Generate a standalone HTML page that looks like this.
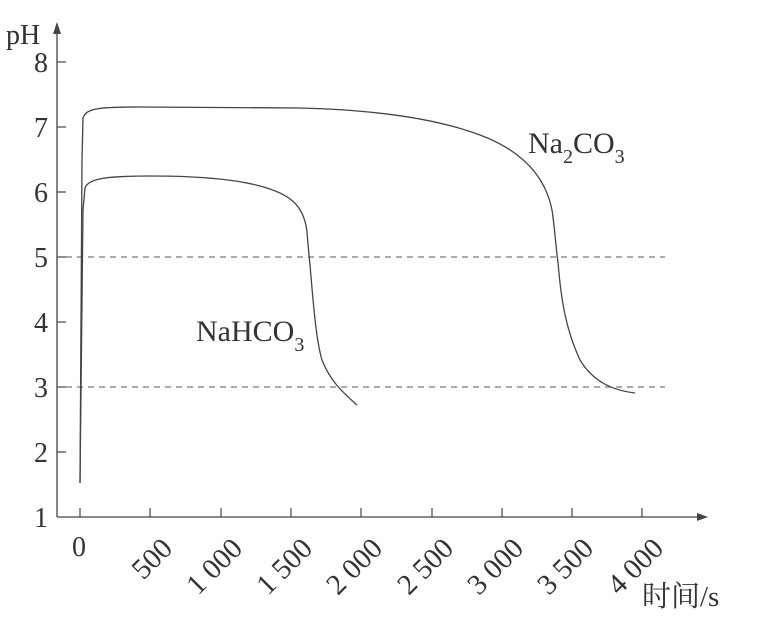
<!DOCTYPE html>
<html><head><meta charset="utf-8"><style>
html,body{margin:0;padding:0;background:#fff;}
svg{display:block;}
text{font-family:"Liberation Serif","Noto Serif CJK SC",serif;fill:#333;}
</style></head><body>
<svg width="766" height="619" viewBox="0 0 766 619" xmlns="http://www.w3.org/2000/svg">
<g stroke="#444" stroke-width="1.3" fill="none">
<line x1="57" y1="517" x2="57" y2="30"/>
<line x1="57" y1="517" x2="700" y2="517"/>
</g>
<polygon points="57,22 53,34 61,34" fill="#444"/>
<polygon points="708,517 697,513 697,521" fill="#444"/>
<g stroke="#444" stroke-width="1.2">
<line x1="57" y1="62" x2="66" y2="62"/><line x1="57" y1="127" x2="66" y2="127"/>
<line x1="57" y1="192" x2="66" y2="192"/><line x1="57" y1="257" x2="66" y2="257"/>
<line x1="57" y1="322" x2="66" y2="322"/><line x1="57" y1="387" x2="66" y2="387"/>
<line x1="57" y1="452" x2="66" y2="452"/>
<line x1="80" y1="517" x2="80" y2="508"/><line x1="150" y1="517" x2="150" y2="508"/>
<line x1="221" y1="517" x2="221" y2="508"/><line x1="291" y1="517" x2="291" y2="508"/>
<line x1="361" y1="517" x2="361" y2="508"/><line x1="432" y1="517" x2="432" y2="508"/>
<line x1="502" y1="517" x2="502" y2="508"/><line x1="572" y1="517" x2="572" y2="508"/>
<line x1="642" y1="517" x2="642" y2="508"/>
</g>
<g stroke="#555" stroke-width="1.1" stroke-dasharray="6,5">
<line x1="66" y1="257" x2="665" y2="257"/>
<line x1="66" y1="387" x2="665" y2="387"/>
</g>
<g font-size="28">
<text x="6" y="44">pH</text>
<text x="34" y="72">8</text><text x="34" y="137">7</text><text x="34" y="202">6</text>
<text x="34" y="267">5</text><text x="34" y="332">4</text><text x="34" y="397">3</text>
<text x="34" y="462">2</text><text x="34" y="527">1</text>
<text x="72" y="556">0</text>
</g>
<g font-size="29" text-anchor="end">
<text transform="translate(174,550) rotate(-45)">500</text>
<text transform="translate(244,550) rotate(-45)">1 000</text>
<text transform="translate(314,550) rotate(-45)">1 500</text>
<text transform="translate(384,550) rotate(-45)">2 000</text>
<text transform="translate(455,550) rotate(-45)">2 500</text>
<text transform="translate(525,550) rotate(-45)">3 000</text>
<text transform="translate(595,550) rotate(-45)">3 500</text>
<text transform="translate(665,550) rotate(-45)">4 000</text>
</g>
<text x="642" y="606" font-size="29">时间/s</text>
<g stroke="#444" stroke-width="1.3" fill="none">
<path d="M80,483 L82,160 L83,118 C86,108 100,107 140,107 L300,108 C380,110 440,120 480,135 C520,150 545,175 552,210 C555,230 556,250 558,262 C561,300 566,330 580,360 C592,380 610,390 635,393"/>
<path d="M80,483 L83,210 L85,188 C88,178 110,176 150,176 C190,176 230,178 260,186 C290,194 304,205 307,232 C308,245 309,255 310,265 C313,300 316,340 322,360 C330,380 340,390 357,405"/>
</g>
<g font-size="30">
<text x="528" y="153">Na<tspan font-size="20" dy="10">2</tspan><tspan dy="-10">CO</tspan><tspan font-size="20" dy="10">3</tspan></text>
<text x="196" y="341">NaHCO<tspan font-size="20" dy="10">3</tspan></text>
</g>
</svg>
</body></html>
